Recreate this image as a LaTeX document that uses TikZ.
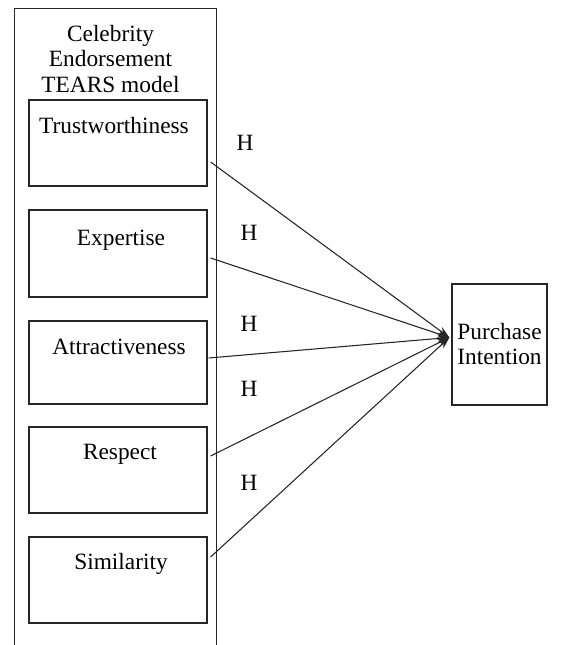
\documentclass[tikz,border=0pt]{standalone}
\usepackage{fontspec}
\setmainfont{Liberation Serif}
\usetikzlibrary{arrows.meta,calc}
\begin{document}
\begin{tikzpicture}[x=0.75pt,y=-0.75pt,
  frame/.style={draw=black!85,line width=0.9pt,inner sep=0pt},
  lbl/.style={font=\fontsize{17.5}{21}\selectfont,inner sep=0pt,align=center},
  hyp/.style={font=\fontsize{17.5}{21}\selectfont,inner sep=0pt},
  link/.style={draw=black!85,line width=0.8pt,-{Stealth[length=9pt,width=6pt]}}]
\useasboundingbox (0,0) rectangle (560,645);
\clip (0,0) rectangle (560,645);
% outer frame (bottom is cut off)
\node[frame,minimum width=202*0.75pt,minimum height=680*0.75pt,anchor=north west] (outer) at (14,8) {};
\node[lbl] (title) at (110.5,59) {Celebrity\\[-2pt]Endorsement\\[-2pt]TEARS model};
% inner boxes
\node[frame,minimum width=178*0.75pt,minimum height=86*0.75pt] (tw) at (118,143) {};
\node[frame,minimum width=178*0.75pt,minimum height=87*0.75pt] (ex) at (118,253.5) {};
\node[frame,minimum width=178*0.75pt,minimum height=83*0.75pt] (at) at (118,362.5) {};
\node[frame,minimum width=178*0.75pt,minimum height=86*0.75pt] (re) at (118,470) {};
\node[frame,minimum width=178*0.75pt,minimum height=86*0.75pt] (si) at (118,580) {};
\node[lbl] (twl) at (114,126) {Trustworthiness};
\node[lbl] (exl) at (121,240) {Expertise};
\node[lbl] (atl) at (119,347) {Attractiveness};
\node[lbl] (rel) at (120,454) {Respect};
\node[lbl] (sil) at (121,564) {Similarity};
% outcome
\node[frame,minimum width=95*0.75pt,minimum height=121*0.75pt] (pi) at (499.5,344.5) {};
\node[lbl] (pil) at (499.5,344) {Purchase\\[-2pt]Intention};
\coordinate (tip) at ($(pi.west)+(-2,-7)$);
% start points
\coordinate (s1) at ($(tw.east)+(3,19)$);
\coordinate (s2) at ($(ex.east)+(3,4.5)$);
\coordinate (s3) at ($(at.east)+(1,-4.5)$);
\coordinate (s4) at ($(re.east)+(3,-14)$);
\coordinate (s5) at ($(si.east)+(3,-23)$);
\foreach \s in {s1,s2,s3,s4,s5} \draw[link] (\s) -- (tip);
% labels
\node[hyp] (h1) at (245,143) {H};
\node[hyp] (h2) at (249,233) {H};
\node[hyp] (h3) at (249,324) {H};
\node[hyp] (h4) at (249,389) {H};
\node[hyp] (h5) at (249,483) {H};
\end{tikzpicture}
\end{document}
